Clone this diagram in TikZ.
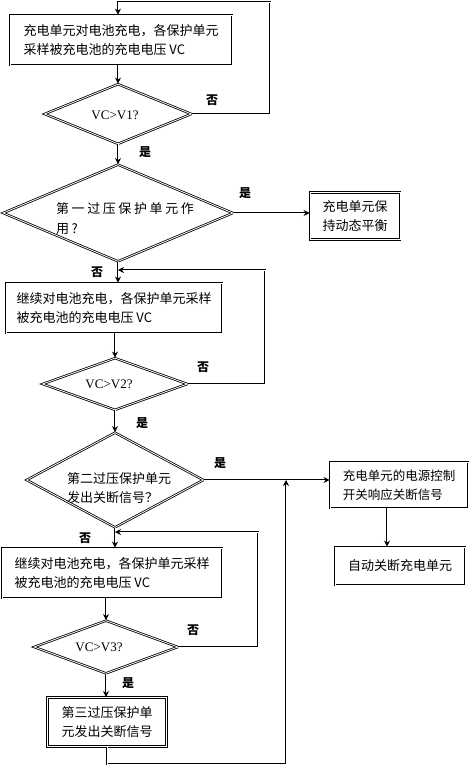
\documentclass[tikz,border=0pt]{standalone}
\usepackage{fontspec}
\setmainfont{Liberation Serif}
\newfontfamily\cjk{Noto Sans CJK SC}
\newfontfamily\cjkwide[LetterSpace=20]{Noto Sans CJK SC}
\usetikzlibrary{shapes.geometric,arrows.meta}

\begin{document}
\begin{tikzpicture}[x=1pt,y=-1pt,
  line/.style={double,double distance=0.9pt,line width=0.9pt},
  arr/.style={line,-{Stealth[length=6pt,width=6pt]}},
  box/.style={draw,double,double distance=0.9pt,line width=0.9pt,align=left,inner sep=0pt,font=\cjk\fontsize{13}{19}\selectfont},
  decision/.style={draw,diamond,double,double distance=0.8pt,line width=0.8pt,inner sep=0pt},
  dtext/.style={align=left,inner sep=0pt,font=\fontsize{13}{16}\selectfont},
  yesno/.style={inner sep=0pt,font=\cjk\bfseries\fontsize{12}{12}\selectfont}]

\useasboundingbox (0,0) rectangle (471,767);

\node[box,minimum width=222pt,minimum height=50pt] (charge1) at (121,40) {充电单元对电池充电，各保护单元\\采样被充电池的充电电压 VC};
\node[decision,minimum width=147pt,minimum height=60pt] (cmp1) at (118,114) {};
\node[dtext] (cmp1t) at (115,115) {VC>V1?};

\node[decision,minimum width=230pt,minimum height=97pt] (prot1) at (118,213) {};
\node[dtext,font=\cjkwide\fontsize{13}{20}\selectfont] (prot1t) at (125,219) {第一过压保护单元作\\用?};
\node[box,minimum width=90pt,minimum height=47pt] (keep) at (355,216) {充电单元保\\持动态平衡};

\node[box,minimum width=216pt,minimum height=50pt] (charge2) at (114,308) {继续对电池充电，各保护单元采样\\被充电池的充电电压 VC};
\node[decision,minimum width=145pt,minimum height=52pt] (cmp2) at (115,384) {};
\node[dtext] (cmp2t) at (109,384) {VC>V2?};

\node[decision,minimum width=177pt,minimum height=95pt] (prot2) at (115,480) {};
\node[dtext,font=\cjk\fontsize{13}{19}\selectfont] (prot2t) at (119,488) {第二过压保护单元\\发出关断信号？};
\node[box,minimum width=138pt,minimum height=46pt,font=\cjk\fontsize{12.5}{19}\selectfont] (cut) at (399,485) {充电单元的电源控制\\开关响应关断信号};
\node[box,minimum width=130pt,minimum height=38pt] (off) at (400,566) {自动关断充电单元};

\node[box,minimum width=220pt,minimum height=50pt] (charge3) at (112,573) {继续对电池充电，各保护单元采样\\被充电池的充电电压 VC};
\node[decision,minimum width=144pt,minimum height=53pt] (cmp3) at (106,647) {};
\node[dtext] (cmp3t) at (99,647) {VC>V3?};
\node[box,minimum width=119pt,minimum height=49pt] (prot3) at (107,722) {第三过压保护单\\元发出关断信号};

\coordinate (r1) at (270,2);
\coordinate (r2) at (265,270);
\coordinate (r3) at (258,532);
\coordinate (b1) at (286,764);

\draw[arr] (cmp1.east) -| (r1) -| (cmp1.north |- charge1.north);
\draw[arr] (cmp1.north |- charge1.south) -- (cmp1.north);
\draw[arr] (cmp1.south) -- (prot1.north);
\draw[arr] (prot1.east) -- (prot1.east -| keep.west);
\draw[arr] (prot1.south) -- (prot1.south |- charge2.north);
\draw[arr] (cmp2.east) -| (r2) -- (r2 -| prot1.south);
\draw[arr] (cmp2.north |- charge2.south) -- (cmp2.north);
\draw[arr] (cmp2.south) -- (prot2.north);
\draw[arr] (prot2.east) -- (prot2.east -| cut.west);
\draw[arr] ([xshift=-12pt]cut.south) -- ([xshift=-12pt]cut.south |- off.north);
\draw[arr] (prot2.south) -- (prot2.south |- charge3.north);
\draw[arr] (cmp3.east) -| (r3) -- (r3 -| prot2.south);
\draw[arr] (cmp3.north |- charge3.south) -- (cmp3.north);
\draw[arr] (cmp3.south) -- (cmp3.south |- prot3.north);
\draw[arr] (prot3.south) |- (b1) -- (b1 |- prot2.east);

\node[yesno] (no1) at (212,100) {否};
\node[yesno] (yes1) at (145,152) {是};
\node[yesno] (yes2) at (245,193) {是};
\node[yesno] (no2) at (97,272) {否};
\node[yesno] (no3) at (203,367) {否};
\node[yesno] (yes3) at (142,423) {是};
\node[yesno] (yes4) at (220,463) {是};
\node[yesno] (no4) at (85,538) {否};
\node[yesno] (no5) at (193,630) {否};
\node[yesno] (yes5) at (128,683) {是};

\end{tikzpicture}
\end{document}
